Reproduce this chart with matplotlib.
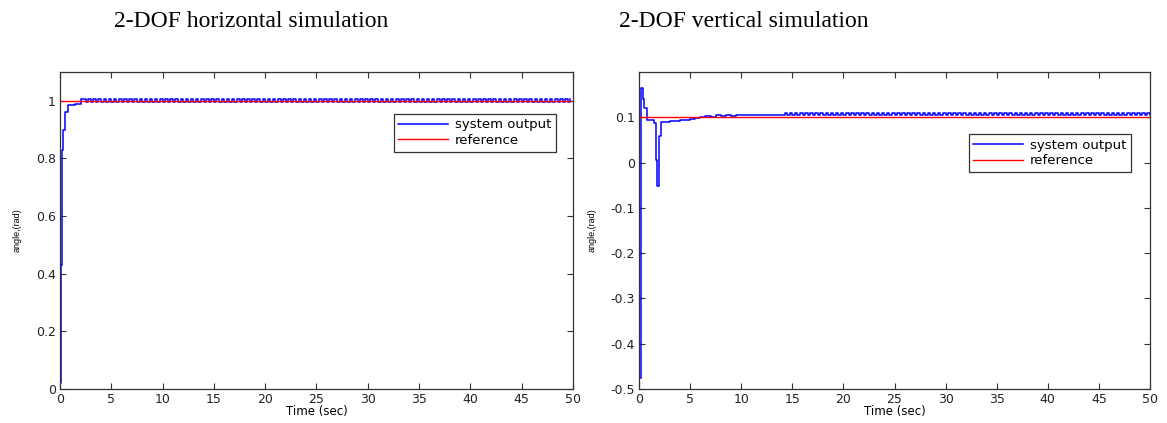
import matplotlib
matplotlib.use("Agg")
import matplotlib.pyplot as plt
import numpy as np

# horizontal: transient samples (time, angle)
h_t = [0.0, 0.1, 0.2, 0.3, 0.5, 0.8, 1.5, 2.0, 2.5]
h_y = [0.02, 0.43, 0.83, 0.90, 0.96, 0.985, 0.99, 1.005, 0.997]
# horizontal: steady part, one sample every 0.25 s from 2.75 s on
h_ripple = [
    1.006, 0.997, 1.006, 0.997, 1.006, 0.997, 1.006, 0.997, 1.006, 0.997,
    1.006, 0.997, 1.006, 0.997, 1.006, 0.997, 1.006, 0.997, 1.006, 0.997,
    1.006, 0.997, 1.006, 0.997, 1.006, 0.997, 1.006, 0.997, 1.006, 0.997,
    1.006, 0.997, 1.006, 0.997, 1.006, 0.997, 1.006, 0.997, 1.006, 0.997,
    1.006, 0.997, 1.006, 0.997, 1.006, 0.997, 1.006, 0.997, 1.006, 0.997,
    1.006, 0.997, 1.006, 0.997, 1.006, 0.997, 1.006, 0.997, 1.006, 0.997,
    1.006, 0.997, 1.006, 0.997, 1.006, 0.997, 1.006, 0.997, 1.006, 0.997,
    1.006, 0.997, 1.006, 0.997, 1.006, 0.997, 1.006, 0.997, 1.006, 0.997,
    1.006, 0.997, 1.006, 0.997, 1.006, 0.997, 1.006, 0.997, 1.006, 0.997,
    1.006, 0.997, 1.006, 0.997, 1.006, 0.997, 1.006, 0.997, 1.006, 0.997,
    1.006, 0.997, 1.006, 0.997, 1.006, 0.997, 1.006, 0.997, 1.006, 0.997,
    1.006, 0.997, 1.006, 0.997, 1.006, 0.997, 1.006, 0.997, 1.006, 0.997,
    1.006, 0.997, 1.006, 0.997, 1.006, 0.997, 1.006, 0.997, 1.006, 0.997,
    1.006, 0.997, 1.006, 0.997, 1.006, 0.997, 1.006, 0.997, 1.006, 0.997,
    1.006, 0.997, 1.006, 0.997, 1.006, 0.997, 1.006, 0.997, 1.006, 0.997,
    1.006, 0.997, 1.006, 0.997, 1.006, 0.997, 1.006, 0.997, 1.006, 0.997,
    1.006, 0.997, 1.006, 0.997, 1.006, 0.997, 1.006, 0.997, 1.006, 0.997,
    1.006, 0.997, 1.006, 0.997, 1.006, 0.997, 1.006, 0.997, 1.006, 0.997,
    1.006, 0.997, 1.006, 0.997, 1.006, 0.997, 1.006, 0.997, 1.006,
]
h_ref = 1.0

# vertical: transient samples (time, angle)
v_t = [0.0, 0.15, 0.35, 0.5, 0.75, 1.5, 1.65, 1.75, 1.95, 2.15,
       3.0, 4.0, 5.0, 5.5, 6.0, 6.5, 7.0, 7.5, 8.0, 8.5, 9.0, 9.5, 10.0]
v_y = [-0.475, 0.164, 0.14, 0.121, 0.093, 0.088, 0.005, -0.051, 0.058, 0.089,
       0.091, 0.094, 0.097, 0.099, 0.100, 0.102, 0.101, 0.104, 0.102, 0.105,
       0.103, 0.105, 0.104]
# vertical: flat stretch then steady ripple, one sample every 0.25 s from 10.25 s on
v_ripple = [
    0.105, 0.105, 0.105, 0.105, 0.105, 0.105, 0.105, 0.105, 0.105, 0.105,
    0.105, 0.105, 0.105, 0.105, 0.105, 0.105,
    0.109, 0.106, 0.109, 0.106, 0.109, 0.106, 0.109, 0.106, 0.109, 0.106,
    0.109, 0.106, 0.109, 0.106, 0.109, 0.106, 0.109, 0.106, 0.109, 0.106,
    0.109, 0.106, 0.109, 0.106, 0.109, 0.106, 0.109, 0.106, 0.109, 0.106,
    0.109, 0.106, 0.109, 0.106, 0.109, 0.106, 0.109, 0.106, 0.109, 0.106,
    0.109, 0.106, 0.109, 0.106, 0.109, 0.106, 0.109, 0.106, 0.109, 0.106,
    0.109, 0.106, 0.109, 0.106, 0.109, 0.106, 0.109, 0.106, 0.109, 0.106,
    0.109, 0.106, 0.109, 0.106, 0.109, 0.106, 0.109, 0.106, 0.109, 0.106,
    0.109, 0.106, 0.109, 0.106, 0.109, 0.106, 0.109, 0.106, 0.109, 0.106,
    0.109, 0.106, 0.109, 0.106, 0.109, 0.106, 0.109, 0.106, 0.109, 0.106,
    0.109, 0.106, 0.109, 0.106, 0.109, 0.106, 0.109, 0.106, 0.109, 0.106,
    0.109, 0.106, 0.109, 0.106, 0.109, 0.106, 0.109, 0.106, 0.109, 0.106,
    0.109, 0.106, 0.109, 0.106, 0.109, 0.106, 0.109, 0.106, 0.109, 0.106,
    0.109, 0.106, 0.109, 0.106, 0.109, 0.106, 0.109, 0.106, 0.109, 0.106,
    0.109, 0.106, 0.109, 0.106, 0.109, 0.106, 0.109, 0.106, 0.109, 0.106,
    0.109, 0.106, 0.109, 0.106,
]
v_ref = 0.1

titles = ["2-DOF horizontal simulation", "2-DOF vertical simulation"]

plt.rcParams['font.family'] = ['DejaVu Sans']

# sample times for the steady parts (0.25 s solver step)
h_time = np.concatenate([h_t, 2.75 + 0.25 * np.arange(len(h_ripple))])
h_vals = np.concatenate([h_y, h_ripple])
v_time = np.concatenate([v_t, 10.25 + 0.25 * np.arange(len(v_ripple))])
v_vals = np.concatenate([v_y, v_ripple])

fig = plt.figure(figsize=(11.67, 4.23), dpi=100)
ax1 = fig.add_axes([0.0514, 0.0804, 0.4396, 0.7494])
ax2 = fig.add_axes([0.5476, 0.0804, 0.4378, 0.7494])

setups = [
    (ax1, h_time, h_vals, h_ref, (0, 1.1), np.arange(0, 1.01, 0.2), (0.967, 0.868),
     ['0', '0.2', '0.4', '0.6', '0.8', '1']),
    (ax2, v_time, v_vals, v_ref, (-0.5, 0.2), np.arange(-0.5, 0.11, 0.1), (0.963, 0.804),
     ['-0.5', '-0.4', '-0.3', '-0.2', '-0.1', '0', '0.1']),
]
for ax, t, y, ref, ylim, yt, leg_pos, ylabels in setups:
    ax.step(t, y, where='post', color='#0000ff', lw=1.1, label='system output')
    ax.plot([0, 50], [ref, ref], color='#ff0000', lw=1.0, label='reference')
    ax.set_xlim(0, 50)
    ax.set_ylim(*ylim)
    ax.set_xticks(np.arange(0, 51, 5))
    ax.set_yticks(yt)
    ax.set_yticklabels(ylabels)
    ax.tick_params(direction='in', top=True, right=True, length=4, width=0.8,
                   labelsize=9, colors='#333333', labelcolor='#222222', pad=3)
    for sp in ax.spines.values():
        sp.set_color('#333333')
        sp.set_linewidth(0.9)
    ax.set_xlabel('Time (sec)', fontsize=8.5, labelpad=-1)
    ax.set_ylabel('angle,(rad)', fontsize=6.5, labelpad=10, family='Liberation Sans')
    leg = ax.legend(loc='upper right', bbox_to_anchor=leg_pos, borderaxespad=0,
                    fontsize=9.5, fancybox=False, framealpha=1, edgecolor='#333333',
                    handlelength=3.8, handletextpad=0.5, borderpad=0.35, labelspacing=0.2)
    leg.get_frame().set_linewidth(0.9)

fig.text(0.215, 0.950, titles[0], ha='center', va='center', fontsize=17, family='Liberation Serif')
fig.text(0.637, 0.950, titles[1], ha='center', va='center', fontsize=17, family='Liberation Serif')

fig.savefig('out.png', dpi=100)
